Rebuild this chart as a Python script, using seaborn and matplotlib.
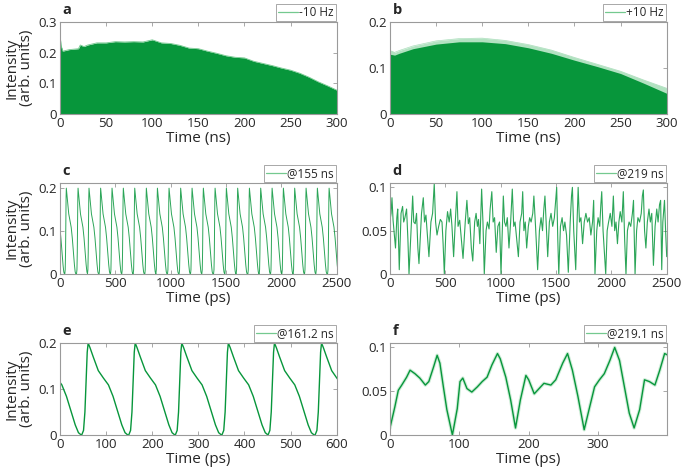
import numpy as np
import pandas as pd
import seaborn as sns
import matplotlib.pyplot as plt

# ---- panel a: -10 Hz, upper envelope of the dense trace (ns)
a_time = [0, 1, 3, 10, 20, 22, 26, 30, 40, 50, 60, 70, 80, 90, 100, 110, 120, 130, 140,
          150, 160, 170, 180, 190, 200, 210, 220, 230, 240, 250, 260, 270, 280, 290, 300]
a_env = [0.265, 0.225, 0.205, 0.21, 0.213, 0.225, 0.22, 0.225, 0.232, 0.232, 0.236, 0.235,
         0.236, 0.235, 0.242, 0.232, 0.23, 0.224, 0.215, 0.213, 0.205, 0.198, 0.19, 0.185,
         0.183, 0.172, 0.165, 0.158, 0.15, 0.143, 0.133, 0.12, 0.105, 0.092, 0.078]

# ---- panel b: +10 Hz, spike envelope and dense envelope (ns)
b_time = [0, 5, 10, 25, 50, 75, 100, 125, 150, 175, 200, 225, 250, 275, 300]
b_peak = [0.138, 0.134, 0.138, 0.148, 0.159, 0.164, 0.165, 0.16, 0.151, 0.139, 0.123,
          0.108, 0.093, 0.074, 0.056]
b_dense = [0.13, 0.128, 0.132, 0.142, 0.152, 0.157, 0.157, 0.153, 0.144, 0.132, 0.117,
           0.103, 0.088, 0.067, 0.045]

# ---- one pulse of the periodic waveform (ps relative to the peak)
wave_dt = [-14, -10, -7, -4, -2, 0, 4, 11, 22, 33, 44, 54, 65, 73, 80, 86]
wave_y = [0.0, 0.01, 0.05, 0.13, 0.18, 0.2, 0.19, 0.17, 0.14, 0.124, 0.109, 0.084,
          0.048, 0.022, 0.005, 0.0]

# pulse peak times (ps)
c_peaks = [-46, 57, 163, 262, 367, 470, 572, 675, 780, 880, 985, 1090, 1193, 1295, 1401,
           1503, 1605, 1711, 1813, 1916, 2018, 2120, 2223, 2325, 2431, 2534]
e_peaks = [-40, 61, 163, 264, 365, 465, 567, 668]

# ---- panel d: @219 ns (ps)
d_time = [0, 10, 18, 28, 40, 50, 62, 70, 84, 100, 114, 124, 135, 150, 162, 172, 190, 205,
          215, 228, 240, 252, 262, 285, 301, 312, 325, 335, 352, 370, 385, 400, 412, 425,
          440, 455, 470, 480, 491, 505, 520, 535, 548, 560, 575, 590, 605, 615, 630, 645,
          660, 680, 695, 708, 720, 735, 748, 765, 778, 790, 800, 812, 828, 840, 852, 868,
          880, 895, 905, 920, 932, 945, 960, 975, 990, 1003, 1015, 1024, 1035, 1048, 1060,
          1075, 1090, 1105, 1118, 1130, 1145, 1160, 1175, 1190, 1199, 1210, 1222, 1235,
          1250, 1262, 1275, 1290, 1300, 1315, 1334, 1350, 1365, 1378, 1390, 1400, 1412,
          1425, 1440, 1455, 1470, 1485, 1497, 1506, 1516, 1525, 1540, 1555, 1568, 1580,
          1595, 1611, 1628, 1640, 1648, 1660, 1678, 1690, 1700, 1712, 1725, 1740, 1755,
          1770, 1785, 1800, 1815, 1830, 1840, 1852, 1868, 1880, 1895, 1905, 1913, 1925,
          1940, 1949, 1962, 1975, 1990, 2005, 2018, 2030, 2042, 2055, 2068, 2080, 2095,
          2108, 2120, 2132, 2145, 2160, 2175, 2190, 2200, 2214, 2228, 2240, 2255, 2270,
          2280, 2289, 2300, 2312, 2325, 2340, 2352, 2365, 2380, 2395, 2410, 2422, 2435,
          2445, 2455, 2465, 2480, 2490, 2500]
d_value = [0.062, 0.07, 0.088, 0.062, 0.045, 0.03, 0.065, 0.075, 0.005, 0.07, 0.078, 0.06,
           0.065, 0.075, 0.04, 0.0, 0.05, 0.09, 0.06, 0.058, 0.07, 0.03, 0.012, 0.07, 0.088,
           0.06, 0.068, 0.05, 0.02, 0.06, 0.07, 0.104, 0.06, 0.045, 0.055, 0.063, 0.06,
           0.035, 0.0, 0.05, 0.072, 0.06, 0.075, 0.055, 0.02, 0.06, 0.095, 0.055, 0.062,
           0.04, 0.018, 0.06, 0.085, 0.058, 0.065, 0.03, 0.015, 0.06, 0.07, 0.055, 0.063,
           0.035, 0.098, 0.06, 0.0, 0.05, 0.06, 0.052, 0.075, 0.095, 0.06, 0.065, 0.025,
           0.055, 0.06, 0.0, 0.05, 0.09, 0.06, 0.055, 0.065, 0.03, 0.06, 0.098, 0.055, 0.06,
           0.04, 0.02, 0.06, 0.07, 0.095, 0.05, 0.06, 0.03, 0.055, 0.065, 0.06, 0.07, 0.09,
           0.055, 0.005, 0.05, 0.065, 0.05, 0.075, 0.09, 0.055, 0.02, 0.06, 0.07, 0.055,
           0.065, 0.085, 0.1, 0.04, 0.0, 0.055, 0.065, 0.05, 0.06, 0.045, 0.002, 0.06, 0.09,
           0.1, 0.05, 0.005, 0.06, 0.1, 0.06, 0.065, 0.035, 0.06, 0.07, 0.06, 0.065, 0.045,
           0.06, 0.085, 0.0, 0.05, 0.065, 0.055, 0.08, 0.095, 0.05, 0.02, 0.0, 0.05, 0.06,
           0.07, 0.055, 0.09, 0.05, 0.06, 0.035, 0.06, 0.072, 0.06, 0.095, 0.04, 0.0, 0.05,
           0.06, 0.055, 0.07, 0.085, 0.0, 0.05, 0.065, 0.06, 0.07, 0.09, 0.097, 0.05, 0.03,
           0.06, 0.075, 0.06, 0.07, 0.01, 0.055, 0.075, 0.06, 0.08, 0.085, 0.005, 0.06,
           0.085, 0.05, 0.02]

# ---- panel f: @219.1 ns (ps)
f_time = [0, 7, 12, 17, 24, 29, 36, 43, 51, 56, 63, 68, 72, 77, 82, 90, 97, 101, 105, 111,
          118, 126, 133, 140, 147, 155, 159, 167, 174, 181, 188, 196, 200, 208, 215, 222,
          232, 239, 249, 256, 263, 271, 280, 287, 295, 302, 309, 317, 324, 331, 338, 345,
          352, 360, 367, 374, 382, 389, 396, 401]
f_value = [0.008, 0.032, 0.051, 0.057, 0.066, 0.074, 0.07, 0.065, 0.057, 0.061, 0.078,
           0.091, 0.082, 0.055, 0.029, 0.0, 0.03, 0.061, 0.065, 0.053, 0.049, 0.055, 0.061,
           0.066, 0.08, 0.093, 0.087, 0.066, 0.04, 0.008, 0.04, 0.068, 0.063, 0.047, 0.053,
           0.059, 0.057, 0.063, 0.082, 0.093, 0.074, 0.044, 0.006, 0.029, 0.055, 0.063, 0.07,
           0.085, 0.1, 0.085, 0.055, 0.025, 0.008, 0.029, 0.063, 0.061, 0.057, 0.074, 0.093,
           0.091]

DARK = '#07963b'
LIGHT = '#74c98f'
GRAY = '#9a9a9a'

sns.set_style('ticks')
plt.rcParams['font.family'] = ['Open Sans', 'DejaVu Sans']
plt.rcParams['axes.edgecolor'] = GRAY
plt.rcParams['axes.linewidth'] = 0.8


def pulse_train(peaks):
    # place the read pulse shape at every read peak time
    t, y = [], []
    for p in peaks:
        t += [p + d for d in wave_dt]
        y += wave_y
    return pd.DataFrame({'t': t, 'y': y})


def style(ax, xlim, xticks, ylim, yticks, yticklabels, xlabel, letter, legend, ylabel=True):
    ax.set_xlim(*xlim)
    ax.set_ylim(*ylim)
    ax.set_xticks(xticks)
    ax.set_xticklabels([str(x) for x in xticks])
    ax.set_yticks(yticks)
    ax.set_yticklabels(yticklabels)
    ax.tick_params(direction='in', top=True, right=True, length=3, width=0.6,
                   color=GRAY, labelsize=9.5, labelcolor='#262626', pad=2)
    ax.set_xlabel(xlabel, fontsize=11, color='#262626', labelpad=1)
    if ylabel:
        ax.set_ylabel('Intensity\n(arb. units)', fontsize=11, color='#262626',
                      linespacing=1.0, labelpad=3)
    else:
        ax.set_ylabel('')
    for s in ax.spines.values():
        s.set_visible(True)
        s.set_color(GRAY)
    ax.text(0.01, 1.05, letter, transform=ax.transAxes, fontsize=10.5,
            fontweight='bold', va='bottom', ha='left')
    leg = ax.legend([ax.lines[0]], [legend], loc='lower right', bbox_to_anchor=(1.0, 1.0),
                    borderaxespad=0.05, frameon=True, fancybox=False, fontsize=8.5,
                    handlelength=1.7, handletextpad=0.1, borderpad=0.2, framealpha=1)
    leg.get_frame().set_edgecolor(GRAY)
    leg.get_frame().set_linewidth(0.6)
    for ln in leg.get_lines():
        ln.set_color(LIGHT)
        ln.set_alpha(1)
        ln.set_linewidth(0.9)


fig = plt.figure(figsize=(6.85, 4.74), dpi=100)
W = 0.404
H = 0.194
ax_a = fig.add_axes([0.0876, 0.7595, W, H])
ax_b = fig.add_axes([0.5693, 0.7595, W, H])
ax_c = fig.add_axes([0.0876, 0.4219, W, 0.192])
ax_d = fig.add_axes([0.5693, 0.4219, W, 0.192])
ax_e = fig.add_axes([0.0876, 0.0823, W, H])
ax_f = fig.add_axes([0.5693, 0.0823, W, H])

# a
df_a = pd.DataFrame({'t': a_time, 'y': a_env})
sns.lineplot(data=df_a, x='t', y='y', ax=ax_a, color=LIGHT, lw=0.6)
ax_a.fill_between(df_a['t'], 0, df_a['y'], color=DARK, lw=0)
style(ax_a, (0, 300), [0, 50, 100, 150, 200, 250, 300], (0, 0.3), [0, 0.1, 0.2, 0.3],
      ['0', '0.1', '0.2', '0.3'], 'Time (ns)', 'a', '-10 Hz')

# b
df_b = pd.DataFrame({'t': b_time, 'peak': b_peak, 'dense': b_dense})
sns.lineplot(data=df_b, x='t', y='peak', ax=ax_b, color=LIGHT, lw=0.5, alpha=0.6)
ax_b.fill_between(df_b['t'], 0, df_b['peak'], color='#7fcf98', alpha=0.6, lw=0)
ax_b.fill_between(df_b['t'], 0, df_b['dense'], color=DARK, lw=0)
style(ax_b, (0, 300), [0, 50, 100, 150, 200, 250, 300], (0, 0.2), [0, 0.1, 0.2],
      ['0', '0.1', '0.2'], 'Time (ns)', 'b', '+10 Hz', ylabel=False)

# c
df_c = pulse_train(c_peaks)
sns.lineplot(data=df_c, x='t', y='y', ax=ax_c, color=DARK, lw=0.7, alpha=0.85,
             estimator=None, sort=False)
style(ax_c, (0, 2500), [0, 500, 1000, 1500, 2000, 2500], (0, 0.212), [0, 0.1, 0.2],
      ['0', '0.1', '0.2'], 'Time (ps)', 'c', '@155 ns')

# d
df_d = pd.DataFrame({'t': d_time, 'y': d_value})
sns.lineplot(data=df_d, x='t', y='y', ax=ax_d, color=DARK, lw=0.8, alpha=0.85,
             estimator=None)
style(ax_d, (0, 2500), [0, 500, 1000, 1500, 2000, 2500], (0, 0.105), [0, 0.05, 0.1],
      ['0', '0.05', '0.1'], 'Time (ps)', 'd', '@219 ns', ylabel=False)

# e
df_e = pulse_train(e_peaks)
sns.lineplot(data=df_e, x='t', y='y', ax=ax_e, color=DARK, lw=1.0,
             estimator=None, sort=False)
style(ax_e, (0, 600), [0, 100, 200, 300, 400, 500, 600], (0, 0.2), [0, 0.1, 0.2],
      ['0', '0.1', '0.2'], 'Time (ps)', 'e', '@161.2 ns')

# f
df_f = pd.DataFrame({'t': f_time, 'y': f_value})
sns.lineplot(data=df_f, x='t', y='y', ax=ax_f, color=DARK, lw=1.0, estimator=None)
ax_f.plot(df_f['t'], df_f['y'], color=LIGHT, lw=2.5, alpha=0.35, zorder=1)
style(ax_f, (0, 399), [0, 100, 200, 300], (0, 0.105), [0, 0.05, 0.1],
      ['0', '0.05', '0.1'], 'Time (ps)', 'f', '@219.1 ns', ylabel=False)

fig.savefig('out.png', dpi=100)
